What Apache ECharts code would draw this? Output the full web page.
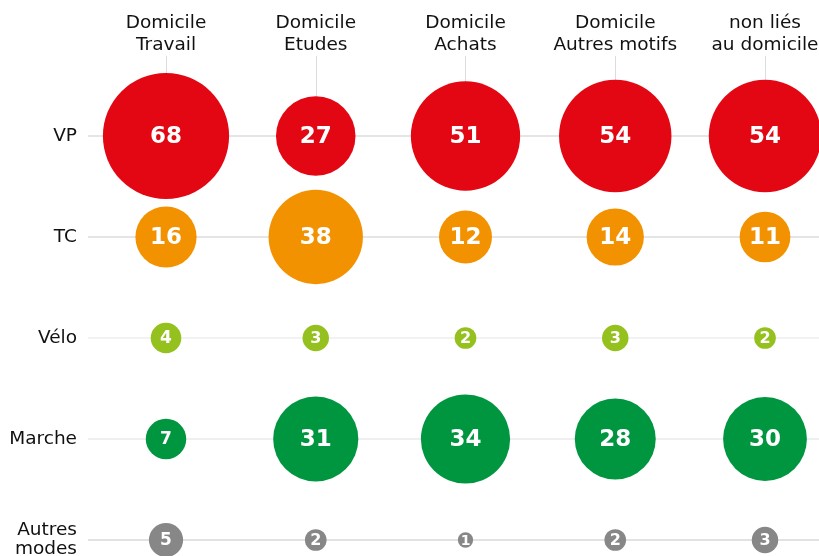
<!DOCTYPE html>
<html>
<head>
<meta charset="utf-8">
<script src="https://cdn.jsdelivr.net/npm/echarts@6/dist/echarts.min.js"></script>
<style>
  html, body { margin: 0; padding: 0; background: #fff; }
  #main { width: 819px; height: 556px; }
</style>
</head>
<body>
<div id="main"></div>
<script>
// motifs (colonnes) et modes (lignes)
const motifs = ['Domicile\nTravail', 'Domicile\nEtudes', 'Domicile\nAchats', 'Domicile\nAutres motifs', 'non liés\nau domicile']
const modes = ['VP', 'TC', 'Vélo', 'Marche', 'Autres\nmodes']
const modeColors = ['#e30613', '#f39200', '#95c11f', '#009640', '#878787']

// parts en % par mode, dans l'ordre des motifs
const vp = [68, 27, 51, 54, 54]
const tc = [16, 38, 12, 14, 11]
const velo = [4, 3, 2, 3, 2]
const marche = [7, 31, 34, 28, 30]
const autres = [5, 2, 1, 2, 3]
const rows = [vp, tc, velo, marche, autres]

const FONT = 'DejaVu Sans'

function bubbleSize(v) {
    return 15.3 * Math.sqrt(v)
}
function labelSize(v) {
    if (v >= 10) return 23
    if (v >= 4) return 17
    if (v >= 2) return 16
    return 14
}

const chart = echarts.init(document.getElementById('main'))

const series = rows.map((vals, r) => ({
    type: 'scatter',
    name: modes[r],
    xAxisIndex: 1,
    yAxisIndex: 1,
    data: vals.map((v, c) => ({
        value: [c, r, v],
        label: { fontSize: labelSize(v) }
    })),
    symbolSize: d => bubbleSize(d[2]),
    itemStyle: { color: modeColors[r], opacity: 1 },
    label: {
        show: true,
        position: 'inside',
        offset: [0, 1],
        formatter: p => p.value[2],
        color: '#fff',
        fontFamily: FONT,
        fontWeight: 'bold',
    },
    emphasis: { disabled: true },
    silent: true,
}))

const option = {
    animation: false,
    backgroundColor: '#fff',
    grid: [
        { left: 88, right: 0, top: 136, bottom: 16, outerBoundsMode: 'none' },
        { left: 166, right: 54, top: 136, bottom: 16, outerBoundsMode: 'none' },
    ],
    xAxis: [
        { gridIndex: 0, type: 'value', min: 0, max: 1, show: false },
        {
            gridIndex: 1,
            type: 'category',
            data: motifs,
            position: 'top',
            boundaryGap: false,
            axisLine: { show: false },
            axisTick: { show: true, interval: 0, length: 80, lineStyle: { color: '#dcdcdc', width: 1 } },
            axisLabel: {
                interval: 0,
                margin: 80,
                color: '#111',
                fontFamily: FONT,
                fontSize: 18.5,
                lineHeight: 22,
                align: 'center',
            },
            splitLine: { show: false },
        },
    ],
    yAxis: [
        {
            gridIndex: 0,
            type: 'category',
            data: modes,
            inverse: true,
            boundaryGap: false,
            axisLine: { show: false },
            axisTick: { show: false },
            axisLabel: {
                interval: 0,
                margin: 11,
                color: '#111',
                fontFamily: FONT,
                fontSize: 18.5,
                lineHeight: 19,
                align: 'right',
            },
            splitLine: {
                show: true,
                interval: 0,
                lineStyle: { color: ['#dcdcdc', '#dcdcdc', '#eeeeee', '#eaeaea', '#d8d8d8'], width: 1.5 },
            },
        },
        {
            gridIndex: 1,
            type: 'category',
            data: modes,
            inverse: true,
            boundaryGap: false,
            show: false,
        },
    ],
    series: series,
}

chart.setOption(option)
</script>
</body>
</html>
